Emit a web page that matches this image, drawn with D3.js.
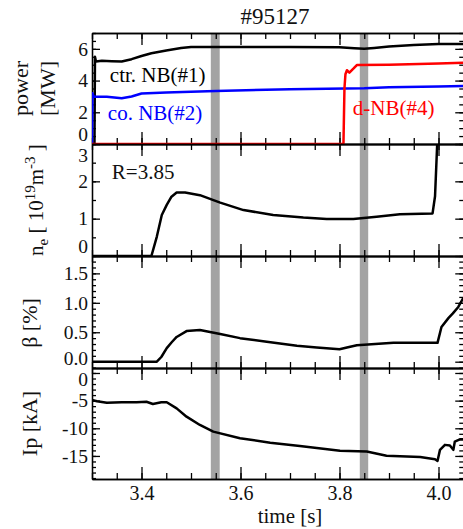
<!DOCTYPE html>
<html>
<head>
<meta charset="utf-8">
<script src="https://cdn.jsdelivr.net/npm/d3@7"></script>
<style>
body{margin:0;background:#fff;}
svg text{font-family:"Liberation Serif","Times New Roman",serif;fill:#111;}
.axis path,.axis line{stroke:#000;stroke-width:1.3;}
</style>
</head>
<body>
<div class="chart"></div>
<script>
// shot #95127
var timeCtr  = [3.3, 3.305, 3.306, 3.308, 3.32, 3.34, 3.36, 3.38, 3.40, 3.42, 3.45, 3.48, 3.50, 3.55, 3.6, 3.7, 3.8, 3.83, 3.85, 3.87, 3.9, 3.95, 4.0, 4.05];
var powerCtr = [0, 0, 5.5, 5.2, 5.25, 5.22, 5.2, 5.35, 5.55, 5.72, 5.9, 6.05, 6.12, 6.12, 6.12, 6.12, 6.1, 6.04, 6.0, 6.06, 6.15, 6.25, 6.3, 6.3];

var timeCo  = [3.3, 3.301, 3.303, 3.33, 3.36, 3.38, 3.40, 3.45, 3.55, 3.7, 3.85, 3.9, 4.0, 4.05];
var powerCo = [0, 3.2, 3.0, 2.98, 2.88, 3.0, 3.18, 3.25, 3.35, 3.45, 3.52, 3.58, 3.63, 3.66];

var timeD  = [3.3, 3.808, 3.810, 3.812, 3.815, 3.82, 3.828, 3.835, 3.9, 4.0, 4.05];
var powerD = [0, 0, 3.5, 4.4, 4.65, 4.5, 4.75, 4.98, 5.0, 5.08, 5.12];

var timeNe = [3.3, 3.42, 3.431, 3.441, 3.451, 3.46, 3.471, 3.488, 3.518, 3.559, 3.606, 3.666, 3.727, 3.774, 3.828, 3.875, 3.922, 3.988, 3.993, 3.998];
var ne     = [0, 0, 0.52, 1.1, 1.37, 1.58, 1.7, 1.7, 1.63, 1.43, 1.23, 1.10, 1.03, 0.99, 0.99, 1.05, 1.12, 1.14, 1.6, 3.2];

var timeBeta = [3.3, 3.431, 3.44, 3.451, 3.461, 3.471, 3.491, 3.518, 3.559, 3.599, 3.653, 3.714, 3.754, 3.8, 3.815, 3.835, 3.909, 3.998, 4.006, 4.02, 4.029, 4.04, 4.05];
var beta     = [0, 0, 0.08, 0.23, 0.33, 0.42, 0.52, 0.54, 0.47, 0.40, 0.34, 0.27, 0.24, 0.21, 0.24, 0.28, 0.32, 0.32, 0.59, 0.74, 0.82, 0.93, 1.08];

var timeIp = [3.3, 3.31, 3.33, 3.36, 3.39, 3.41, 3.423, 3.44, 3.451, 3.471, 3.491, 3.518, 3.545, 3.599, 3.66, 3.72, 3.801, 3.855, 3.895, 3.963, 3.993, 3.998, 4.003, 4.013, 4.023, 4.03, 4.033, 4.043, 4.05];
var ip     = [-4.9, -5.1, -5.4, -5.3, -5.3, -5.2, -5.6, -5.3, -5.3, -6.4, -7.9, -9.4, -10.6, -11.8, -12.6, -13.2, -14.05, -14.2, -14.95, -15.2, -15.6, -15.9, -13.9, -13.0, -13.1, -13.9, -12.4, -12.0, -12.0];

var bandStart = [3.540, 3.841];
var bandEnd   = [3.558, 3.858];

var timeTicks  = [3.4, 3.6, 3.8, 4.0];
var powerTicks = [0, 2, 4, 6];
var neTicks    = [0, 1, 2, 3];
var betaTicks  = [0, 0.5, 1.0, 1.5];
var ipTicks    = [0, -5, -10, -15];

var width = 463, height = 529;
var left = 92, right = 463.25;
var plotTop = 33, plotBottom = 479;

var svg = d3.select(".chart").append("svg")
    .attr("width", width).attr("height", height);

var x = d3.scaleLinear().domain([3.3, 4.05]).range([left, right]);
var xMinor = d3.range(3.3, 4.051, 0.05);

// gray marks at the two times of interest
svg.selectAll(".band")
    .data(bandStart)
    .enter().append("rect")
    .attr("class", "band")
    .attr("x", function(d){ return x(d); })
    .attr("width", function(d, i){ return x(bandEnd[i]) - x(d); })
    .attr("y", plotTop)
    .attr("height", plotBottom - plotTop)
    .attr("fill", "#a3a3a3");

function pairs(t, v){
    return t.map(function(d, i){ return [d, v[i]]; });
}

function build_panel(top, bottom, domain, major, minor, fmt, series, lastPanel){
    var y = d3.scaleLinear().domain(domain).range([bottom, top]);
    var id = "clip" + Math.round(top);
    svg.append("clipPath").attr("id", id)
        .append("rect").attr("x", left).attr("y", top)
        .attr("width", right - left).attr("height", bottom - top);

    var g = svg.append("g");
    // left / right
    g.append("g").attr("class", "axis").attr("transform", "translate(" + left + ",0)")
        .call(d3.axisLeft(y).tickValues(minor).tickSizeInner(-4).tickSizeOuter(0).tickFormat(""));
    var lab = g.append("g").attr("class", "axis").attr("transform", "translate(" + left + ",0)")
        .call(d3.axisLeft(y).tickValues(major).tickSizeInner(-8).tickSizeOuter(0).tickPadding(4).tickFormat(fmt));
    lab.attr("font-size", 19.5);
    // keep labels at the edges inside the panel
    lab.selectAll(".tick").each(function(d){
        var yy = y(d);
        var c = Math.max(top + 11, Math.min(bottom - 10, yy));
        d3.select(this).select("text").attr("y", c - yy).attr("fill", "#111");
    });
    g.append("g").attr("class", "axis").attr("transform", "translate(" + right + ",0)")
        .call(d3.axisRight(y).tickValues(minor).tickSizeInner(-4).tickSizeOuter(0).tickFormat(""));
    g.append("g").attr("class", "axis").attr("transform", "translate(" + right + ",0)")
        .call(d3.axisRight(y).tickValues(major).tickSizeInner(-8).tickSizeOuter(0).tickFormat(""));
    // top / bottom
    g.append("g").attr("class", "axis").attr("transform", "translate(0," + top + ")")
        .call(d3.axisTop(x).tickValues(xMinor).tickSizeInner(-6).tickSizeOuter(0).tickFormat(""));
    g.append("g").attr("class", "axis").attr("transform", "translate(0," + top + ")")
        .call(d3.axisTop(x).tickValues(timeTicks).tickSizeInner(-12).tickSizeOuter(0).tickFormat(""));
    g.append("g").attr("class", "axis").attr("transform", "translate(0," + bottom + ")")
        .call(d3.axisBottom(x).tickValues(xMinor).tickSizeInner(-6).tickSizeOuter(0).tickFormat(""));
    var bx = g.append("g").attr("class", "axis").attr("transform", "translate(0," + bottom + ")")
        .call(d3.axisBottom(x).tickValues(timeTicks).tickSizeInner(-12).tickSizeOuter(0).tickPadding(7)
            .tickFormat(lastPanel ? d3.format(".1f") : ""));
    bx.attr("font-size", 20);
    bx.selectAll("text").attr("fill", "#111");

    var line = d3.line().x(function(d){ return x(d[0]); }).y(function(d){ return y(d[1]); });
    series.forEach(function(s){
        svg.append("path")
            .datum(s.data)
            .attr("clip-path", "url(#" + id + ")")
            .attr("fill", "none")
            .attr("stroke", s.color)
            .attr("stroke-width", 2.5)
            .attr("stroke-linejoin", "round")
            .attr("d", line);
    });
    return y;
}

var yP = build_panel(33, 144, [0, 7], powerTicks, d3.range(0, 7.01, 0.5), d3.format("d"), [
    {data: pairs(timeCtr, powerCtr), color: "#000"},
    {data: pairs(timeCo, powerCo), color: "#0000ff"},
    {data: pairs(timeD, powerD), color: "#ff0000"}
], false);
var yN = build_panel(144, 256, [0, 3], neTicks, d3.range(0, 3.01, 0.5), d3.format("d"), [
    {data: pairs(timeNe, ne), color: "#000"}
], false);
var yB = build_panel(256, 368, [-0.107, 1.795], betaTicks, d3.range(-0.1, 1.75, 0.1), d3.format(".1f"), [
    {data: pairs(timeBeta, beta), color: "#000"}
], false);
var yI = build_panel(368, 479, [-19.17, 0.9], ipTicks, d3.range(-19, 0.5, 1), function(d){ return String(d); }, [
    {data: pairs(timeIp, ip), color: "#000"}
], true);

// title
svg.append("text").attr("x", 275).attr("y", 24).attr("text-anchor", "middle")
    .attr("font-size", 23).text("#95127");
svg.append("text").attr("x", 290).attr("y", 523).attr("text-anchor", "middle")
    .attr("font-size", 21).text("time [s]");

// series labels
svg.append("text").attr("x", x(3.336)).attr("y", yP(3.94)).attr("font-size", 21)
    .style("fill", "#000").text("ctr. NB(#1)");
svg.append("text").attr("x", x(3.332)).attr("y", yP(1.51)).attr("font-size", 21)
    .style("fill", "#0000ff").text("co. NB(#2)");
svg.append("text").attr("x", x(3.827)).attr("y", yP(1.86)).attr("font-size", 21)
    .style("fill", "#ff0000").text("d-NB(#4)");
svg.append("text").attr("x", x(3.34)).attr("y", yN(2.06)).attr("font-size", 21)
    .text("R=3.85");

// y labels
function ylabel(cx, cy){
    return svg.append("text").attr("transform", "translate(" + cx + "," + cy + ") rotate(-90)")
        .attr("text-anchor", "middle").attr("font-size", 22);
}
ylabel(28, 88.5).text("power");
ylabel(55, 88.5).text("[MW]");
var nl = ylabel(43, 200).attr("font-size", 21);
nl.append("tspan").text("n");
nl.append("tspan").attr("dy", 5).attr("font-size", 15).text("e");
nl.append("tspan").attr("dy", -5).text(" [ 10");
nl.append("tspan").attr("dy", -8).attr("font-size", 15).text("19");
nl.append("tspan").attr("dy", 8).text("m");
nl.append("tspan").attr("dy", -8).attr("font-size", 15).text("-3");
nl.append("tspan").attr("dy", 8).text(" ]");
ylabel(37, 323).text("\u03b2 [%]");
ylabel(37, 423.5).text("Ip [kA]");
</script>
</body>
</html>
